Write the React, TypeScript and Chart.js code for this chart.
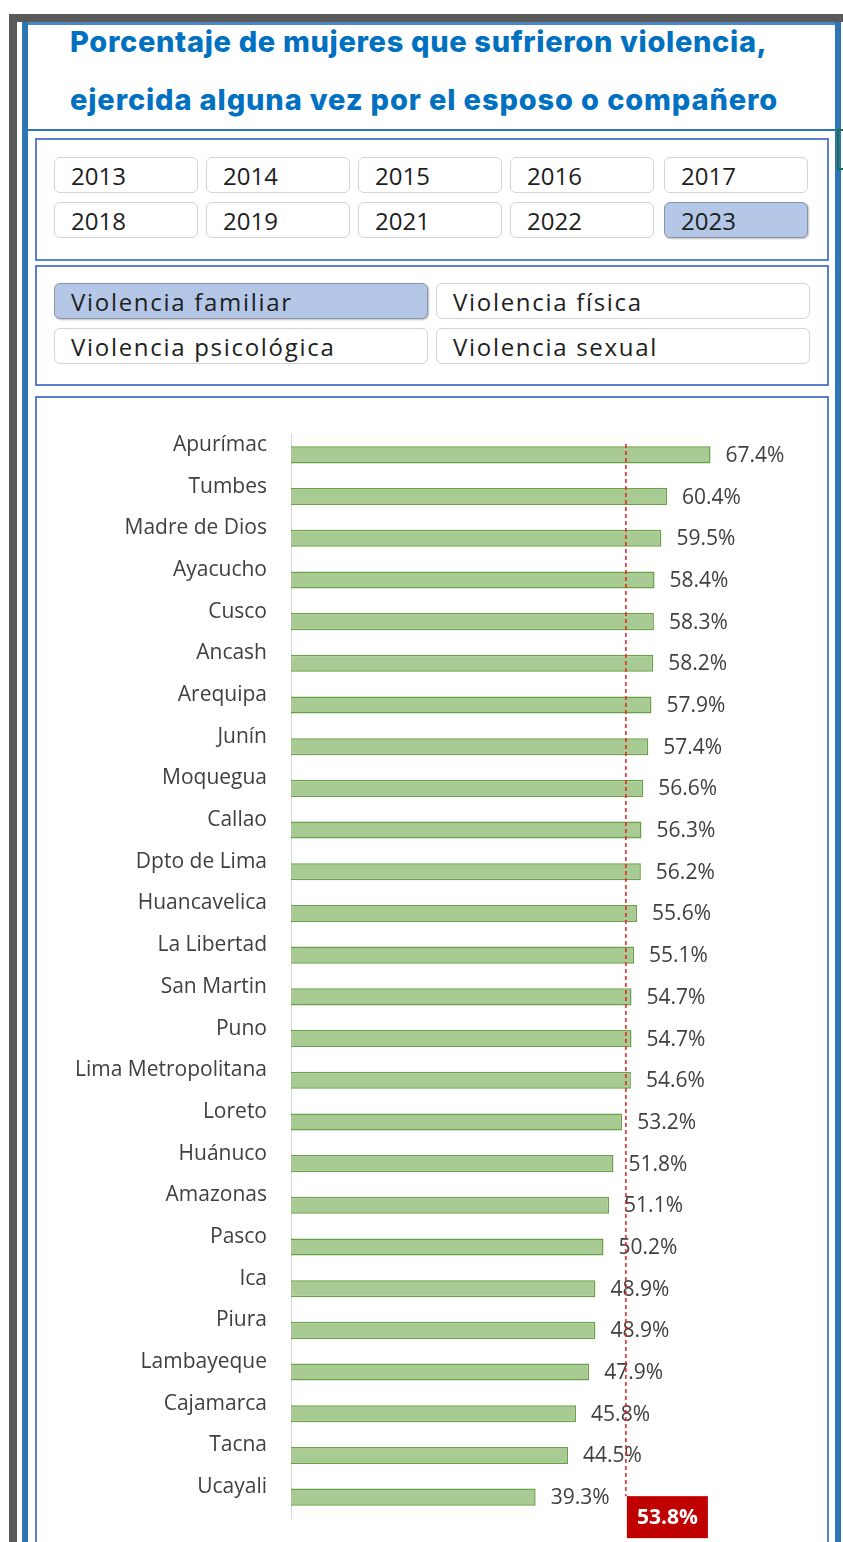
import React, { useEffect, useRef } from "react";
import { Chart, registerables } from "chart.js";

Chart.register(...registerables);

const titleLines = [
  "Porcentaje de mujeres que sufrieron violencia,",
  "ejercida alguna vez por el esposo o compañero",
];

const years = ["2013", "2014", "2015", "2016", "2017", "2018", "2019", "2021", "2022", "2023"];
const selectedYear = "2023";

const violenceTypes = ["Violencia familiar", "Violencia física", "Violencia psicológica", "Violencia sexual"];
const selectedViolence = "Violencia familiar";

const regions = [
  "Apurímac", "Tumbes", "Madre de Dios", "Ayacucho", "Cusco", "Ancash", "Arequipa", "Junín",
  "Moquegua", "Callao", "Dpto de Lima", "Huancavelica", "La Libertad", "San Martin", "Puno",
  "Lima Metropolitana", "Loreto", "Huánuco", "Amazonas", "Pasco", "Ica", "Piura", "Lambayeque",
  "Cajamarca", "Tacna", "Ucayali",
];

const values = [
  67.4, 60.4, 59.5, 58.4, 58.3, 58.2, 57.9, 57.4, 56.6, 56.3, 56.2, 55.6, 55.1, 54.7, 54.7,
  54.6, 53.2, 51.8, 51.1, 50.2, 48.9, 48.9, 47.9, 45.8, 44.5, 39.3,
];

const average = 53.8;

const FONT = '"Open Sans", "Noto Sans", sans-serif';

const overlayPlugin = {
  id: "overlay",
  afterDatasetsDraw(chart: any) {
    const ctx = chart.ctx;
    const meta = chart.getDatasetMeta(0);
    const area = chart.chartArea;
    ctx.save();
    ctx.font = `21px ${FONT}`;
    ctx.fillStyle = "#404040";
    ctx.textBaseline = "middle";
    ctx.textAlign = "left";
    meta.data.forEach((bar: any, i: number) => {
      ctx.fillText(values[i].toFixed(1) + "%", bar.x + 15, bar.y + 1);
    });
    const x = chart.scales.x.getPixelForValue(average);
    const last = meta.data[meta.data.length - 1];
    const boxTop = last.y - 1;
    ctx.strokeStyle = "#E02020";
    ctx.lineWidth = 1.5;
    ctx.setLineDash([4, 3]);
    ctx.beginPath();
    ctx.moveTo(x, area.top + 10);
    ctx.lineTo(x, boxTop);
    ctx.stroke();
    ctx.setLineDash([]);
    ctx.fillStyle = "#C00000";
    ctx.fillRect(x + 1, boxTop, 81, 42);
    ctx.fillStyle = "#FFFFFF";
    ctx.font = `bold 21px ${FONT}`;
    ctx.textAlign = "center";
    ctx.fillText(average.toFixed(1) + "%", x + 41.5, boxTop + 22);
    ctx.restore();
  },
};

function BarChart() {
  const ref = useRef<HTMLCanvasElement | null>(null);
  useEffect(() => {
    if (!ref.current) return;
    const chart = new Chart(ref.current, {
      type: "bar",
      data: {
        labels: regions,
        datasets: [
          {
            data: values,
            backgroundColor: "#A8CB94",
            borderColor: "#6AA146",
            borderWidth: 1.5,
            barPercentage: 0.41,
            categoryPercentage: 1,
          },
        ],
      },
      options: {
        indexAxis: "y",
        animation: false,
        responsive: false,
        layout: { padding: { top: 36, bottom: 24, left: 0, right: 37 } },
        plugins: { legend: { display: false }, tooltip: { enabled: false } },
        scales: {
          x: { display: false, min: 0, max: 80 },
          y: {
            grid: { display: false, drawTicks: true, tickLength: 24 },
            border: { display: true, color: "#D9D9D9", width: 1 },
            ticks: {
              font: { family: FONT, size: 21 },
              color: "#404040",
              padding: 0,
              labelOffset: -10,
            },
            afterFit: (scale: any) => {
              scale.width = 255;
            },
          },
        },
      },
      plugins: [overlayPlugin],
    });
    return () => chart.destroy();
  }, []);
  return (
    <canvas
      ref={ref}
      width={790}
      height={1144}
      style={{ position: "absolute", left: 36, top: 398, width: 790, height: 1144 }}
    />
  );
}

function Button({ label, left, top, width, selected, size, spacing }: any) {
  return (
    <div
      style={{
        position: "absolute",
        left,
        top,
        width,
        height: 36,
        boxSizing: "border-box",
        borderRadius: 6,
        border: selected ? "1px solid #8A94A6" : "1px solid #D4D4D4",
        background: selected ? "#B4C7E7" : "#FFFFFF",
        boxShadow: selected ? "1px 1px 2px rgba(0,0,0,0.25)" : "none",
        display: "flex",
        alignItems: "center",
        paddingLeft: 16,
        fontFamily: FONT,
        fontSize: size,
        letterSpacing: spacing,
        color: "#1E1E1E",
        whiteSpace: "nowrap",
      }}
    >
      {label}
    </div>
  );
}

export default function App() {
  const abs = (s: any) => ({ position: "absolute" as const, ...s });
  const yearLefts = [54, 206, 358, 510, 664];
  return (
    <div style={abs({ left: 0, top: 0, width: 843, height: 1542, overflow: "hidden", background: "#FFFFFF" })}>
      <div style={abs({ left: 9, top: 14, width: 834, height: 8, background: "#595959" })} />
      <div style={abs({ left: 9, top: 14, width: 8, height: 1528, background: "#595959" })} />
      <div style={abs({ left: 22, top: 22, width: 819, height: 3, background: "#4A86C8" })} />
      <div style={abs({ left: 22, top: 22, width: 6, height: 1520, background: "#2E75B6" })} />
      <div style={abs({ left: 835, top: 22, width: 6, height: 1520, background: "#2E75B6" })} />
      <div style={abs({ left: 28, top: 129, width: 807, height: 2, background: "#2E75B6" })} />
      <div style={abs({ left: 837, top: 129, width: 12, height: 41, boxSizing: "border-box", border: "2px solid #217346" })} />

      {titleLines.map((t, i) => (
        <div
          key={t}
          style={abs({
            left: 70,
            top: i === 0 ? 26 : 84,
            fontFamily: '"Inter", sans-serif',
            fontWeight: 800,
            fontSize: 29,
            lineHeight: "32px",
            color: "#0070C0",
            whiteSpace: "nowrap",
            letterSpacing: i === 0 ? 0.67 : 0.87,
          })}
        >
          {t}
        </div>
      ))}

      <div style={abs({ left: 35, top: 138, width: 794, height: 123, boxSizing: "border-box", border: "2px solid #5B80D2" })} />
      <div style={abs({ left: 35, top: 265, width: 794, height: 121, boxSizing: "border-box", border: "2px solid #5B80D2" })} />
      <div style={abs({ left: 35, top: 396, width: 794, height: 1200, boxSizing: "border-box", border: "2px solid #5B80D2" })} />

      {years.map((y, i) => (
        <Button
          key={y}
          label={y}
          left={yearLefts[i % 5]}
          top={i < 5 ? 157 : 202}
          width={144}
          selected={y === selectedYear}
          size={24}
          spacing={0}
        />
      ))}

      {violenceTypes.map((v, i) => (
        <Button
          key={v}
          label={v}
          left={i % 2 === 0 ? 54 : 436}
          top={i < 2 ? 283 : 328}
          width={374}
          selected={v === selectedViolence}
          size={24}
          spacing={1.7}
        />
      ))}

      <BarChart />
    </div>
  );
}
